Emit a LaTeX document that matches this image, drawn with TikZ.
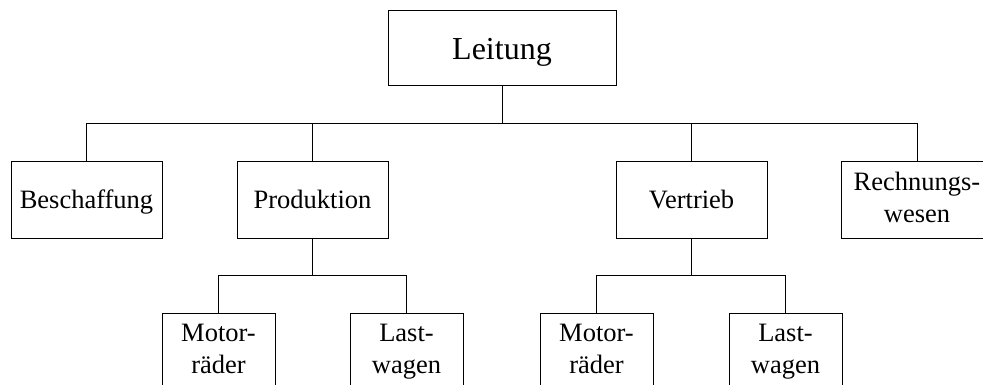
\documentclass[tikz,border=0pt]{standalone}
\usepackage{fontspec}
\setmainfont{Liberation Serif}
\begin{document}
\begin{tikzpicture}[x=1pt,y=-1pt,
  unit/.style={draw, line width=1pt, inner sep=0pt, align=center,
    font=\fontsize{26.5}{31.8}\selectfont},
  oneline/.style={text height=18.5pt, text depth=2.5pt},
  topunit/.style={unit, minimum width=228pt, minimum height=75pt,
    text height=25pt, text depth=2pt,
    font=\fontsize{32}{38}\selectfont},
  deptunit/.style={unit, minimum width=151pt, minimum height=76pt},
  subunit/.style={unit, minimum width=113pt, minimum height=76pt},
  link/.style={line width=1pt}]
\useasboundingbox (0,0) rectangle (983,385);
\clip (0,0) rectangle (983,385);

% management
\node[topunit] (lead) at (502,48.5) {Leitung};

% departments
\node[deptunit,oneline] (buy)  at (86.5,200)  {Beschaffung};
\node[deptunit,oneline] (prod) at (312.5,200) {Produktion};
\node[deptunit,oneline] (sale) at (691.5,200) {Vertrieb};
\node[deptunit] (acct) at (917,200) {\strut Rechnungs-\\\strut wesen};

% product groups
\node[subunit] (pmot)  at (218.5,351) {\strut Motor-\\\strut räder};
\node[subunit] (plast) at (406.5,351) {\strut Last-\\\strut wagen};
\node[subunit] (smot)  at (596.5,351) {\strut Motor-\\\strut räder};
\node[subunit] (slast) at (785.5,351) {\strut Last-\\\strut wagen};

% bus levels
\coordinate (bus1) at (0,124);
\coordinate (bus2) at (0,275);

% management to departments
\draw[link] (lead.south) -- (lead.south |- bus1);
\draw[link] (buy.north) -- (buy.north |- bus1) -- (acct.north |- bus1) -- (acct.north);
\draw[link] (prod.north) -- (prod.north |- bus1);
\draw[link] (sale.north) -- (sale.north |- bus1);

% Produktion to its groups
\draw[link] (prod.south) -- (prod.south |- bus2);
\draw[link] (pmot.north) -- (pmot.north |- bus2) -- (plast.north |- bus2) -- (plast.north);

% Vertrieb to its groups
\draw[link] (sale.south) -- (sale.south |- bus2);
\draw[link] (smot.north) -- (smot.north |- bus2) -- (slast.north |- bus2) -- (slast.north);
\end{tikzpicture}
\end{document}
